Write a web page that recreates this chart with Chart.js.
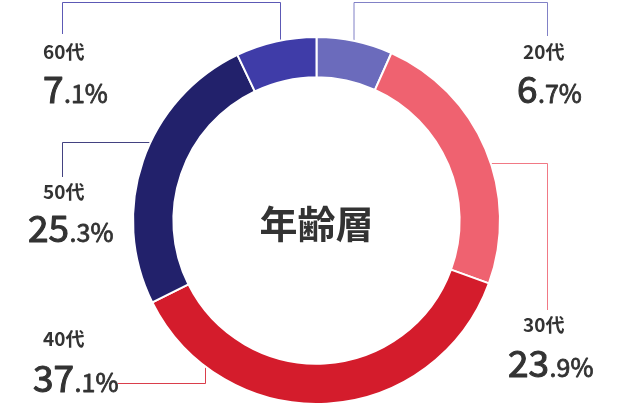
<!DOCTYPE html>
<html>
<head>
<meta charset="utf-8">
<script src="https://cdn.jsdelivr.net/npm/chart.js@4.4.1/dist/chart.umd.min.js"></script>
<style>
  html, body { margin: 0; padding: 0; background: #fff; }
  #wrap { width: 639px; height: 405px; position: relative; }
</style>
</head>
<body>
<div id="wrap"><canvas id="chartAge"></canvas></div>
<script>
// =========================
//  Data
// =========================

const ages = ['20代', '30代', '40代', '50代', '60代'];
const shares = [6.7, 23.9, 37.1, 25.3, 7.1];
const sliceColors = ['#6b6bbc', '#ef6270', '#d41c2c', '#22216b', '#3f3ca8'];
const centerTitle = '年齢層';

// label placement (left x of title / value, title middle y, value baseline)
// leader: side the line leaves the ring ('up', 'down', 'left', 'right'), fixed coord, then the elbow points
const labelLayout = [
  { tx: 523, ty: 52, vx: 517, vy: 103, from: 'up', at: 354, path: [[354, 2.5], [547.5, 2.5], [547.5, 36]] },
  { tx: 523, ty: 325, vx: 508, vy: 377, from: 'right', at: 163.5, path: [[547.5, 163.5], [547.5, 310]] },
  { tx: 43, ty: 339, vx: 33, vy: 392, from: 'down', at: 205.5, path: [[205.5, 383.5], [118, 383.5]] },
  { tx: 43, ty: 192, vx: 28, vy: 242, from: 'left', at: 142.5, path: [[62.5, 142.5], [62.5, 177]] },
  { tx: 43, ty: 52, vx: 43, vy: 103, from: 'up', at: 280.5, path: [[280.5, 2.5], [62.5, 2.5], [62.5, 34]] },
];

const FONT = '"Noto Sans CJK JP", "Noto Sans", sans-serif';
const TEXT = '#333333';

// =========================
//  Plugins
// =========================

function ringPoint(arc, from, at) {
  const R = arc.outerRadius - 2;
  if (from === 'up' || from === 'down') {
    const dy = Math.sqrt(Math.max(0, R * R - (at - arc.x) ** 2));
    return [at, from === 'up' ? arc.y - dy : arc.y + dy];
  }
  const dx = Math.sqrt(Math.max(0, R * R - (at - arc.y) ** 2));
  return [from === 'left' ? arc.x - dx : arc.x + dx, at];
}

// regular weight with a thin outline, looks like a medium weight
function mediumText(ctx, str, x, y) {
  ctx.fillText(str, x, y);
  ctx.strokeText(str, x, y);
}

const leaderPlugin = {
  id: 'leaders',
  beforeDatasetsDraw(chart) {
    const ctx = chart.ctx;
    const arcs = chart.getDatasetMeta(0).data;
    ctx.save();
    ctx.lineWidth = 1;
    labelLayout.forEach((l, i) => {
      const start = ringPoint(arcs[i], l.from, l.at);
      ctx.strokeStyle = sliceColors[i];
      ctx.globalAlpha = 0.85;
      ctx.beginPath();
      ctx.moveTo(start[0], start[1]);
      l.path.forEach(p => ctx.lineTo(p[0], p[1]));
      ctx.stroke();
    });
    ctx.restore();
  },
  afterDatasetsDraw(chart) {
    const ctx = chart.ctx;
    const arc = chart.getDatasetMeta(0).data[0];
    ctx.save();
    ctx.fillStyle = TEXT;
    ctx.strokeStyle = TEXT;
    ctx.lineJoin = 'round';

    // centre title
    ctx.font = 'bold 38px ' + FONT;
    ctx.textAlign = 'center';
    ctx.textBaseline = 'middle';
    ctx.fillText(centerTitle, arc.x, arc.y + 3);

    ctx.textAlign = 'left';
    labelLayout.forEach((l, i) => {
      ctx.font = 'bold 19px ' + FONT;
      ctx.textBaseline = 'middle';
      ctx.fillText(ages[i], l.tx, l.ty);

      const parts = String(shares[i]).split('.');
      const big = parts[0];
      const small = '.' + parts[1] + '%';
      ctx.textBaseline = 'alphabetic';
      ctx.font = '37px ' + FONT;
      ctx.lineWidth = 1.1;
      mediumText(ctx, big, l.vx, l.vy);
      const w = ctx.measureText(big).width;
      ctx.font = '25px ' + FONT;
      ctx.lineWidth = 0.8;
      mediumText(ctx, small, l.vx + w + 0.5, l.vy);
    });
    ctx.restore();
  }
};

// =========================
//  Chart
// =========================

new Chart(document.getElementById('chartAge'), {
  type: 'doughnut',
  data: {
    labels: ages,
    datasets: [{
      data: shares,
      backgroundColor: sliceColors,
      borderColor: '#ffffff',
      borderWidth: 2,
    }],
  },
  options: {
    responsive: true,
    maintainAspectRatio: false,
    animation: false,
    cutout: '78%',
    layout: { padding: { top: 36, bottom: 0, left: 132, right: 138 } },
    plugins: {
      legend: { display: false },
      tooltip: { enabled: false },
    },
  },
  plugins: [leaderPlugin],
});
</script>
</body>
</html>
